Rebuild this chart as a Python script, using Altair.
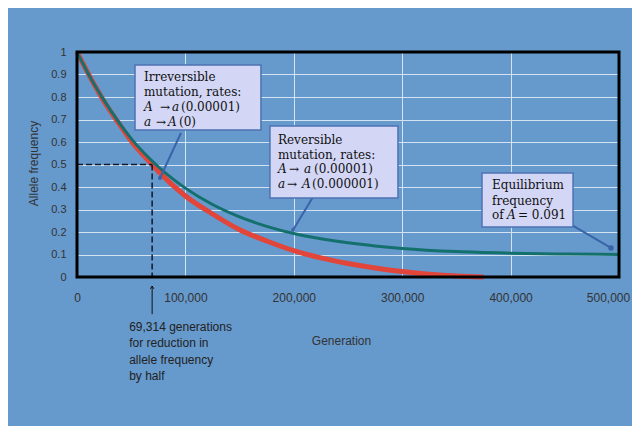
import altair as alt
import pandas as pd

# ---- data ----
red_gen = [0, 12500, 25000, 37500, 50000, 69314, 75000, 100000, 125000, 150000,
           175000, 200000, 225000, 250000, 275000, 300000, 325000, 350000, 375000]
red_freq = [1.0, 0.885, 0.78, 0.69, 0.605, 0.50, 0.47, 0.36, 0.28, 0.21,
            0.16, 0.117, 0.085, 0.06, 0.04, 0.024, 0.012, 0.004, 0.0]

green_gen = [0, 12500, 25000, 37500, 50000, 75000, 100000, 125000, 150000, 175000,
             200000, 225000, 250000, 275000, 300000, 350000, 400000, 450000, 500000]
green_freq = [1.0, 0.885, 0.785, 0.695, 0.615, 0.49, 0.395, 0.322, 0.267, 0.225,
              0.193, 0.17, 0.152, 0.138, 0.127, 0.113, 0.106, 0.102, 0.10]

x_ticks = [0, 100000, 200000, 300000, 400000, 500000]
y_ticks = [0, 0.1, 0.2, 0.3, 0.4, 0.5, 0.6, 0.7, 0.8, 0.9, 1.0]

half_gen = 69314
half_freq = 0.5

# ---- annotation layout (data units) ----
boxes = pd.DataFrame({
    "t": [53500, 178000, 373600],
    "t2": [169700, 296100, 457600],
    "f": [0.942, 0.671, 0.462],
    "f2": [0.653, 0.351, 0.222],
})

pieces = [
    # box 1
    (61800, 0.889, "Irreversible", "normal"),
    (61800, 0.822, "mutation, rates:", "normal"),
    (61800, 0.756, "A", "italic"),
    (76600, 0.756, "\u2192", "normal"),
    (87600, 0.756, "a", "italic"),
    (95900, 0.756, "(0.00001)", "normal"),
    (61800, 0.689, "a", "italic"),
    (72900, 0.689, "\u2192", "normal"),
    (83900, 0.689, "A", "italic"),
    (94100, 0.689, "(0)", "normal"),
    # box 2
    (185400, 0.609, "Reversible", "normal"),
    (185400, 0.542, "mutation, rates:", "normal"),
    (185400, 0.478, "A", "italic"),
    (195600, 0.478, "\u2192", "normal"),
    (209400, 0.478, "a", "italic"),
    (218600, 0.478, "(0.00001)", "normal"),
    (185400, 0.413, "a", "italic"),
    (193700, 0.413, "\u2192", "normal"),
    (207600, 0.413, "A", "italic"),
    (216800, 0.413, "(0.000001)", "normal"),
    # box 3
    (382800, 0.409, "Equilibrium", "normal"),
    (382800, 0.338, "frequency", "normal"),
    (382800, 0.276, "of", "normal"),
    (396700, 0.276, "A", "italic"),
    (406800, 0.276, "= 0.091", "normal"),
]
pieces_df = pd.DataFrame(pieces, columns=["t", "f", "txt", "style"])

pointers = pd.DataFrame({
    "t": [95900, 217700, 456600],
    "f": [0.64, 0.356, 0.231],
    "t2": [76600, 199300, 492600],
    "f2": [0.44, 0.209, 0.129],
})
pointer_ends = pd.DataFrame({"t": [76600, 199300, 492600], "f": [0.44, 0.209, 0.129],
                             "s": [18, 14, 30]})

dash_h = pd.DataFrame({"t": [0], "t2": [half_gen], "f": [half_freq], "f2": [half_freq]})
dash_v = pd.DataFrame({"t": [half_gen], "t2": [half_gen], "f": [half_freq], "f2": [0]})

note_lines = ["69,314 generations", "for reduction in", "allele frequency", "by half"]
note_df = pd.DataFrame({"t": [48100] * 4, "f": [-0.222, -0.295, -0.367, -0.44], "txt": note_lines})
note_arrow = pd.DataFrame({"t": [half_gen], "f": [-0.165], "f2": [-0.04]})
note_head = pd.DataFrame({"t": [half_gen], "f": [-0.04]})

frame = pd.DataFrame({"t": [0], "t2": [500000], "f": [0], "f2": [1]})

red_df = pd.DataFrame({"t": red_gen, "f": red_freq})
green_df = pd.DataFrame({"t": green_gen, "f": green_freq})

# ---- encodings ----
X = alt.X("t:Q",
          scale=alt.Scale(domain=[0, 500000], nice=False, zero=False),
          axis=alt.Axis(values=x_ticks, format=",.0f", title="Generation",
                        labelFontSize=12, labelPadding=15, labelFlush=False,
                        labelOffset={"condition": {"test": "datum.value == 500000", "value": -11}, "value": 0},
                        titleX=264, titleY=63, titleBaseline="middle",
                        titleFontSize=12))
Y = alt.Y("f:Q",
          scale=alt.Scale(domain=[0, 1], nice=False, zero=False),
          axis=alt.Axis(values=y_ticks, format=".1~f", title="Allele frequency",
                        labelFontSize=11, labelPadding=11, labelFlush=False,
                        titleX=-44, titleY=111, titleBaseline="middle",
                        titleFontSize=12))

RED = "#e2453a"
GREEN = "#13706c"
PTR = "#3a64a8"

red_line = alt.Chart(red_df).mark_line(color=RED, strokeWidth=5, interpolate="monotone").encode(x=X, y=Y)
green_line = alt.Chart(green_df).mark_line(color=GREEN, strokeWidth=3, interpolate="monotone").encode(x=X, y=Y)

dh = alt.Chart(dash_h).mark_rule(color="#101830", strokeWidth=1.5, strokeDash=[6, 3]).encode(
    x=X, x2="t2:Q", y=Y, y2="f2:Q")
dv = alt.Chart(dash_v).mark_rule(color="#101830", strokeWidth=1.5, strokeDash=[6, 3]).encode(
    x=X, x2="t2:Q", y=Y, y2="f2:Q")

ptr = alt.Chart(pointers).mark_rule(color=PTR, strokeWidth=2).encode(x=X, x2="t2:Q", y=Y, y2="f2:Q")
ptr_dot = alt.Chart(pointer_ends).mark_point(color=PTR, filled=True, opacity=1).encode(
    x=X, y=Y, size=alt.Size("s:Q", scale=None, legend=None))

box = alt.Chart(boxes).mark_rect(fill="#d3d6f5", stroke="#4d73b3", strokeWidth=1.5).encode(
    x=X, x2="t2:Q", y=Y, y2="f2:Q")

txt_norm = alt.Chart(pieces_df).transform_filter("datum.style == 'normal'").mark_text(
    font="DejaVu Serif", fontSize=12, align="left", baseline="middle", color="#111111").encode(
    x=X, y=Y, text="txt:N")
txt_ital = alt.Chart(pieces_df).transform_filter("datum.style == 'italic'").mark_text(
    font="DejaVu Serif", fontSize=12, fontStyle="italic", align="left", baseline="middle",
    color="#111111").encode(x=X, y=Y, text="txt:N")

note = alt.Chart(note_df).mark_text(font="Liberation Sans", fontSize=12, align="left",
                                    baseline="middle", color="#222222").encode(x=X, y=Y, text="txt:N")
arrow = alt.Chart(note_arrow).mark_rule(color="#111111", strokeWidth=1).encode(x=X, y=Y, y2="f2:Q")
head = alt.Chart(note_head).mark_point(shape="M-0.5,0.8L0,0L0.5,0.8", filled=False, size=49,
                                       color="#111111", strokeWidth=1, opacity=1).encode(x=X, y=Y)

border = alt.Chart(frame).mark_rect(fillOpacity=0, stroke="black", strokeWidth=3).encode(
    x=X, x2="t2:Q", y=Y, y2="f2:Q")

chart = alt.layer(
    red_line, green_line, dh, dv, ptr, ptr_dot, box, txt_norm, txt_ital,
    note, arrow, head, border
).properties(
    width=542, height=225,
    padding={"left": 69, "top": 44, "right": 13, "bottom": 149},
    autosize=alt.AutoSizeParams(type="none"),
).configure(
    background="#6699cc"
).configure_view(
    strokeWidth=0
).configure_axis(
    domain=False, ticks=False, tickSize=0,
    grid=True, gridColor="#d3e3f2", gridWidth=1, gridOpacity=1,
    labelFont="Liberation Sans", labelColor="#333333",
    titleFont="Liberation Sans", titleColor="#333333", titleFontWeight="normal",
)

chart.save("out.html", embed_options={"renderer": "svg", "actions": False})
